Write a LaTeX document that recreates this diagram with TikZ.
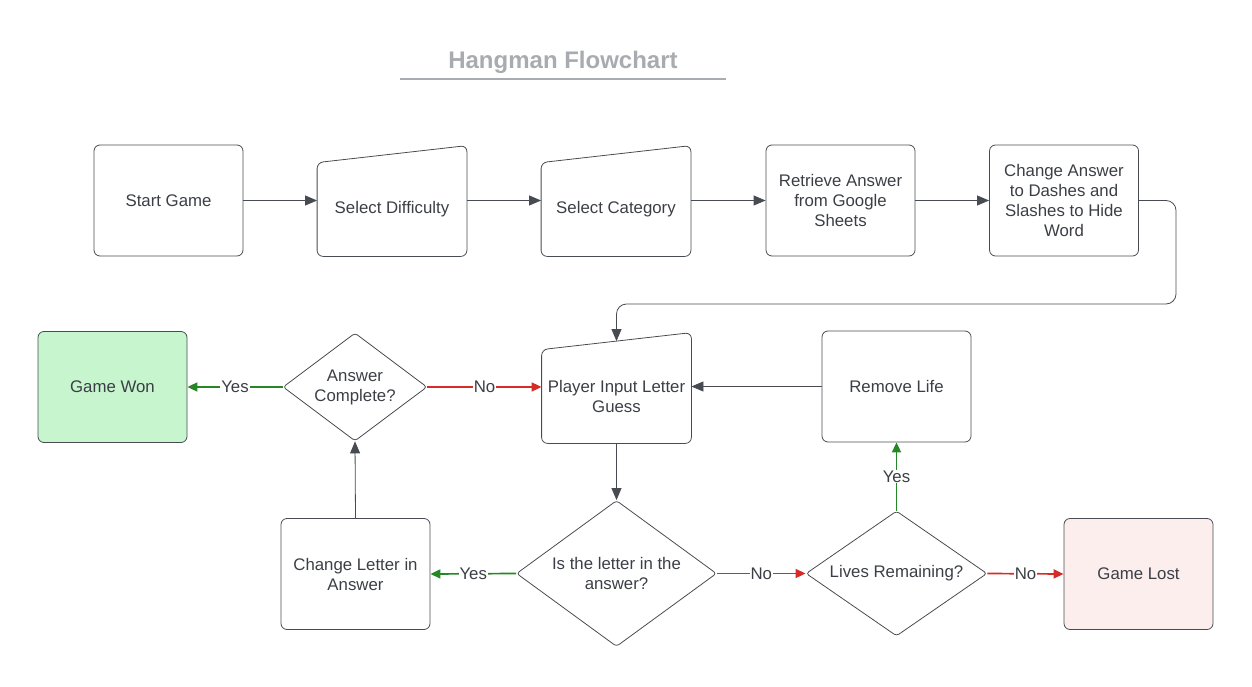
\documentclass[tikz,border=0pt]{standalone}
\usepackage{fontspec}
\setmainfont{Liberation Sans}
\usepackage{xcolor}
\usepackage{tikz}
\usetikzlibrary{positioning, arrows.meta, calc, shapes.geometric}
\definecolor{ink}{RGB}{59,63,69}
\definecolor{edge}{RGB}{72,76,82}
\definecolor{titlegrey}{RGB}{168,171,176}
\definecolor{wonfill}{RGB}{198,245,206}
\definecolor{lostfill}{RGB}{253,238,238}
\definecolor{yesgreen}{RGB}{38,135,38}
\definecolor{nored}{RGB}{214,44,40}

\begin{document}
\begin{tikzpicture}[x=1pt, y=-1pt,
    box/.style={rectangle, draw=edge, rounded corners=6pt, line width=0.8pt,
                minimum width=149pt, minimum height=111pt, inner sep=2pt,
                align=center, text=ink, font=\fontsize{16.8}{20}\selectfont},
    manual/.style={box, draw=none, minimum height=93pt},
    decision/.style={diamond, draw=edge, line width=0.8pt, rounded corners=3pt,
                inner sep=0pt, align=center, text=ink, font=\fontsize{16.8}{20}\selectfont},
    flow/.style={draw=edge, line width=0.8pt, -{Triangle[length=12pt, width=10pt]}},
    yesline/.style={flow, draw=yesgreen, line width=1.7pt, -{Triangle[length=10pt, width=9pt]}},
    noline/.style={flow, draw=nored, line width=1.7pt, -{Triangle[length=10pt, width=9pt]}},
    lab/.style={fill=white, text=ink, inner sep=1pt, font=\fontsize{16.8}{20}\selectfont}
  ]
  \useasboundingbox (0,0) rectangle (1252,687);

  % --- title ---
  \node[font=\bfseries\fontsize{24}{28}\selectfont, text=titlegrey] (title) at (563,62) {Hangman Flowchart};
  \draw[draw=titlegrey, line width=1.6pt] (400,79) -- (726,79);

  % --- setup row ---
  \node[box] (start) at (168.5,200.5) {Start Game};
  \node[manual] (diff) at (392,209.5) {Select Difficulty};
  \node[manual] (cat) at (616,209.5) {Select Category};
  \node[box] (fetch) at (840.5,200.5) {Retrieve Answer\\from Google\\Sheets};
  \node[box] (hide) at (1064,200.5) {Change Answer\\to Dashes and\\Slashes to Hide\\Word};

  % --- game loop ---
  \node[manual] (input) at (616.5,396.5) {Player Input Letter\\Guess};
  \node[box] (remove) at (896.5,386.5) {Remove Life};
  \node[box, fill=wonfill] (won) at (112.5,387) {Game Won};
  \node[box, fill=lostfill] (lost) at (1138.5,574) {Game Lost};
  \node[box] (change) at (355.5,574) {Change Letter in\\Answer};
  \node[decision, aspect=1.33, minimum width=144pt, minimum height=108pt] (done) at (355,387) {Answer\\Complete?};
  \node[decision, aspect=1.37, minimum width=200pt, minimum height=146pt] (letter) at (616.5,573.5) {Is the letter in the\\answer?};
  \node[decision, aspect=1.45, minimum width=181pt, minimum height=125pt] (lives) at (896.5,573.5) {Lives Remaining?};

  % manual input outlines (slanted top)
  \foreach \n in {diff, cat, input} {
    \draw[draw=edge, line width=0.8pt, rounded corners=6pt]
      (\n.south west) -- (\n.north west) -- ([yshift=17pt]\n.north east) -- (\n.south east) -- cycle;
  }

  % --- connectors ---
  \draw[flow] (start.east) -- (start.east -| diff.west);
  \draw[flow] (start.east -| diff.east) -- (start.east -| cat.west);
  \draw[flow] (start.east -| cat.east) -- (fetch.west);
  \draw[flow] (fetch.east) -- (hide.west);
  \coordinate (loopr) at (1176,304);
  \draw[flow, rounded corners=10pt] (hide.east) -| (loopr) -| ([yshift=8.5pt]input.north);
  \draw[flow] (input.south) -- (letter.north);
  \draw[flow] (remove.west) -- (remove.west -| input.east);
  \draw[flow] (change.north) -- (done.south);

  \draw[yesline] (letter.west) -- node[lab] {Yes} (change.east);
  \draw[noline] (letter.east) -- node[lab] {No} (lives.west);
  \draw[noline] (lives.east) -- node[lab] {No} (lost.west);
  \draw[yesline] (lives.north) -- node[lab] {Yes} (remove.south);
  \draw[yesline] (done.west) -- node[lab] {Yes} (won.east);
  \draw[noline] (done.east) -- node[lab] {No} (done.east -| input.west);
\end{tikzpicture}
\end{document}
